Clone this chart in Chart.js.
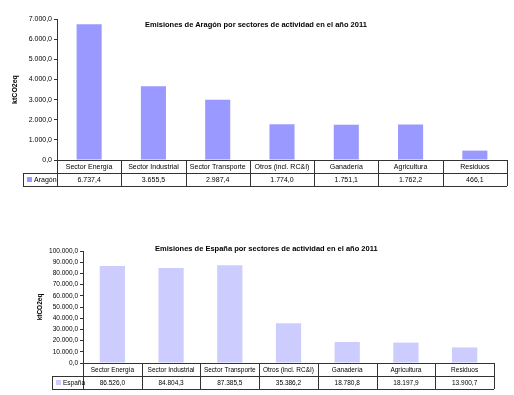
<!DOCTYPE html>
<html>
<head>
<meta charset="utf-8">
<script src="https://cdn.jsdelivr.net/npm/chart.js@4"></script>
<style>
  body { margin: 0; background: #fff; }
  #wrap { position: relative; width: 514px; height: 395px; overflow: hidden; }
  canvas { position: absolute; left: 0; }
  .title { position: absolute; font-family: "Liberation Sans", Arial, sans-serif; font-weight: bold;
           font-size: 7.5px; color: #000; white-space: nowrap; }
</style>
</head>
<body>
<div id="wrap">
  <canvas id="aragonCanvas" style="top:0px"></canvas>
  <div class="title" style="left:145px; top:20px">Emisiones de Aragón por sectores de actividad en el año 2011</div>
  <canvas id="espanaCanvas" style="top:232px"></canvas>
  <div class="title" style="left:155px; top:244px">Emisiones de España por sectores de actividad en el año 2011</div>
</div>
<script>
var sectores = ["Sector Energía", "Sector Industrial", "Sector Transporte", "Otros (incl. RC&I)", "Ganadería", "Agricultura", "Residuos"];
var aragonData = [6737.4, 3655.5, 2987.4, 1774.0, 1751.1, 1762.2, 466.1];
var espanaData = [86526.0, 84804.3, 87385.5, 35386.2, 18780.8, 18197.9, 13900.7];

// 1.234,5 style numbers
function fmt(v) {
    var parts = v.toFixed(1).split(".");
    var ent = parts[0].replace(/\B(?=(\d{3})+(?!\d))/g, ".");
    return ent + "," + parts[1];
}

var tablePlugin = {
    id: "dataTable",
    afterDraw: function (chart, args, opts) {
        var ctx = chart.ctx;
        var area = chart.chartArea;
        var x = chart.scales.x;
        var n = chart.data.labels.length;
        var w = (area.right - area.left) / n;
        var y0 = area.bottom, y1 = y0 + opts.rowH, y2 = y1 + opts.rowH;
        var values = chart.data.datasets[0].data;

        ctx.save();
        ctx.strokeStyle = "#333";
        ctx.lineWidth = 1;
        ctx.beginPath();
        // horizontal lines
        ctx.moveTo(area.left, y0 + 0.5); ctx.lineTo(area.right, y0 + 0.5);
        ctx.moveTo(opts.legendLeft, y1 + 0.5); ctx.lineTo(area.right, y1 + 0.5);
        ctx.moveTo(opts.legendLeft, y2 + 0.5); ctx.lineTo(area.right, y2 + 0.5);
        // vertical lines
        ctx.moveTo(opts.legendLeft + 0.5, y1); ctx.lineTo(opts.legendLeft + 0.5, y2);
        for (var i = 0; i <= n; i++) {
            var xx = Math.round(area.left + i * w) + 0.5;
            ctx.moveTo(xx, y0); ctx.lineTo(xx, y2);
        }
        ctx.stroke();

        ctx.fillStyle = "#000";
        ctx.font = opts.fontSize + "px 'Liberation Sans', Arial, sans-serif";
        ctx.textAlign = "center";
        ctx.textBaseline = "middle";
        for (var j = 0; j < n; j++) {
            var cx = x.getPixelForValue(j);
            ctx.fillText(chart.data.labels[j], cx, (y0 + y1) / 2 + 0.5);
            ctx.fillText(fmt(values[j]), cx, (y1 + y2) / 2 + 0.5);
        }
        // legend key
        ctx.fillStyle = chart.data.datasets[0].backgroundColor;
        ctx.fillRect(opts.legendLeft + 4, (y1 + y2) / 2 - 2.5, 5, 5);
        ctx.fillStyle = "#000";
        ctx.textAlign = "left";
        ctx.fillText(chart.data.datasets[0].label, opts.legendLeft + 11, (y1 + y2) / 2 + 0.5);
        ctx.restore();
    }
};

function makeChart(id, cfg) {
    var canvas = document.getElementById(id);
    canvas.width = 514;
    canvas.height = cfg.height;
    return new Chart(canvas, {
        type: "bar",
        data: {
            labels: sectores,
            datasets: [{
                label: cfg.label,
                data: cfg.data,
                backgroundColor: cfg.color,
                borderWidth: 0,
                categoryPercentage: 1,
                barPercentage: cfg.barPct
            }]
        },
        plugins: [tablePlugin],
        options: {
            responsive: false,
            animation: false,
            layout: { padding: { left: cfg.padLeft, right: cfg.padRight, top: cfg.padTop, bottom: cfg.padBottom } },
            plugins: {
                legend: { display: false },
                tooltip: { enabled: false },
                dataTable: { rowH: cfg.rowH, legendLeft: cfg.legendLeft, fontSize: cfg.fontSize }
            },
            scales: {
                x: { display: false },
                y: {
                    min: 0,
                    max: cfg.max,
                    ticks: {
                        stepSize: cfg.step,
                        color: "#000",
                        padding: 2,
                        font: { family: "'Liberation Sans', Arial, sans-serif", size: cfg.fontSize },
                        callback: function (v) { return fmt(v); }
                    },
                    grid: { display: true, drawOnChartArea: false, drawTicks: true, tickLength: 3, color: "#333" },
                    border: { display: true, color: "#333" },
                    title: {
                        display: true,
                        text: "ktCO2eq",
                        color: "#000",
                        padding: 0,
                        font: { family: "'Liberation Sans', Arial, sans-serif", size: cfg.fontSize, weight: "bold" }
                    },
                    afterFit: function (axis) { axis.width = cfg.axisW; }
                }
            }
        }
    });
}

makeChart("aragonCanvas", {
    label: "Aragón", data: aragonData, color: "#9999ff", max: 7000, step: 1000,
    height: 192, padLeft: 11, axisW: 46, padRight: 7, padTop: 19, padBottom: 32, rowH: 13,
    legendLeft: 23, barPct: 0.39, fontSize: 7
});

makeChart("espanaCanvas", {
    label: "España", data: espanaData, color: "#ccccff", max: 100000, step: 10000,
    height: 163, padLeft: 36, axisW: 47, padRight: 20, padTop: 19, padBottom: 32, rowH: 13,
    legendLeft: 52, barPct: 0.43, fontSize: 6.5
});
</script>
</body>
</html>
